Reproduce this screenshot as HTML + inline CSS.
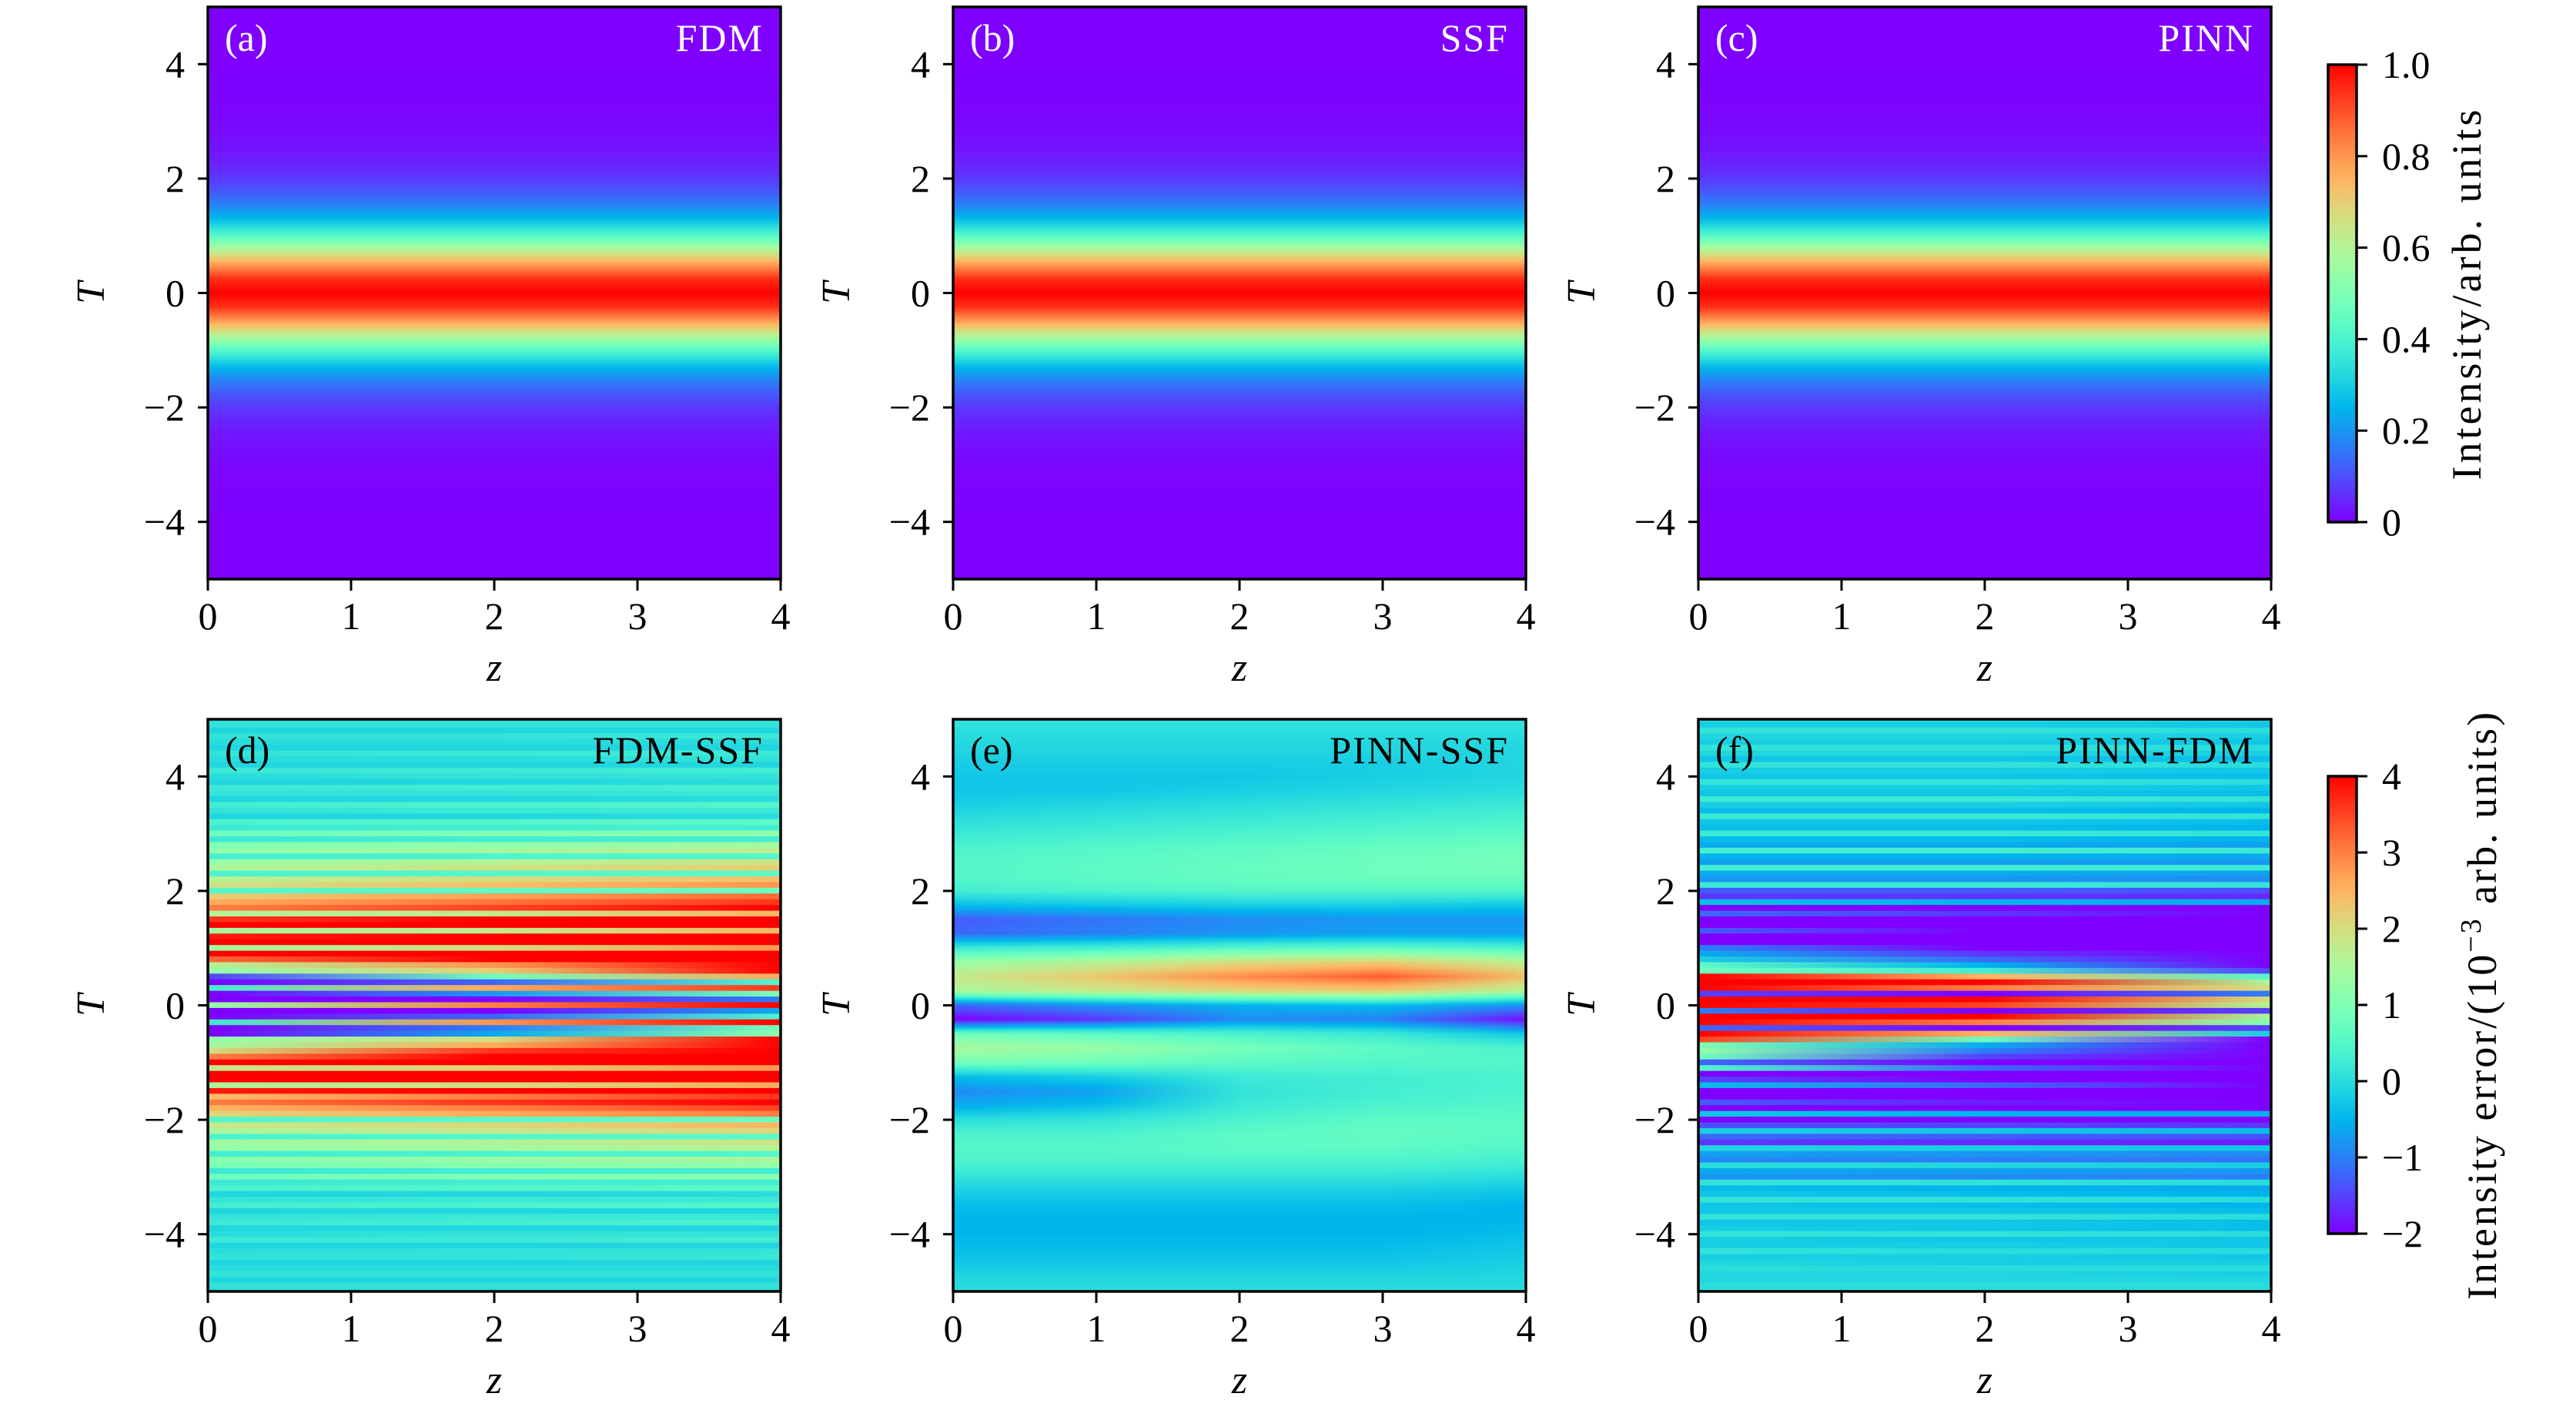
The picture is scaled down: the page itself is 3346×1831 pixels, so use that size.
<!DOCTYPE html>
<html><head><meta charset="utf-8"><style>
html,body{margin:0;padding:0;background:#fff;}
svg{display:block;font-family:"Liberation Serif",serif;}
</style></head><body>
<svg id="fig" xmlns="http://www.w3.org/2000/svg" width="3346" height="1831" viewBox="0 0 3346 1831">
<defs id="defs"></defs>
</svg>
<script>
// ---------- data ----------
const zTicks = [0,1,2,3,4];
const tTicks = [-4,-2,0,2,4];
const cbTicks1 = [0,0.2,0.4,0.6,0.8,1.0];
const cbTickLabels1 = ["0","0.2","0.4","0.6","0.8","1.0"];
const cbTicks2 = [-2,-1,0,1,2,3,4];
const cbTickLabels2 = ["\u22122","\u22121","0","1","2","3","4"];
// intensity vs T (T = 5 -> -5, step 0.25)
const tCoarse = [5,4.75,4.5,4.25,4,3.75,3.5,3.25,3,2.75,2.5,2.25,2,1.75,1.5,1.25,1,0.75,0.5,0.25,0,-0.25,-0.5,-0.75,-1,-1.25,-1.5,-1.75,-2,-2.25,-2.5,-2.75,-3,-3.25,-3.5,-3.75,-4,-4.25,-4.5,-4.75,-5];
const intensityFDM = [0.0002,0.0003,0.0005,0.0008,0.0013,0.0022,0.0036,0.006,0.0099,0.016,0.026,0.044,0.071,0.115,0.181,0.28,0.42,0.60,0.786,0.94,1.0,0.94,0.786,0.60,0.42,0.28,0.181,0.115,0.071,0.044,0.026,0.016,0.0099,0.006,0.0036,0.0022,0.0013,0.0008,0.0005,0.0003,0.0002];
const intensitySSF = [0.0002,0.0003,0.0005,0.0008,0.0013,0.0022,0.0036,0.006,0.0099,0.016,0.026,0.044,0.071,0.115,0.181,0.28,0.42,0.60,0.786,0.94,1.0,0.94,0.786,0.60,0.42,0.28,0.181,0.115,0.071,0.044,0.026,0.016,0.0099,0.006,0.0036,0.0022,0.0013,0.0008,0.0005,0.0003,0.0002];
const intensityPINN = [0.0002,0.0003,0.0005,0.0008,0.0013,0.0022,0.0036,0.006,0.0099,0.016,0.026,0.044,0.071,0.115,0.181,0.28,0.42,0.60,0.786,0.94,1.0,0.94,0.786,0.60,0.42,0.28,0.181,0.115,0.071,0.044,0.026,0.016,0.0099,0.006,0.0036,0.0022,0.0013,0.0008,0.0005,0.0003,0.0002];
// PINN-SSF error (1e-3), columns z = 0..4, rows T 5 -> -5 step 0.25
const eZcols = [0,1,2,3,4];
const eZ0 = [0.1,0.0,-0.1,-0.2,-0.3,-0.3,-0.2,0.0,0.2,0.4,0.5,0.5,0.3,-0.4,-1.3,-1.2,0.2,1.3,1.8,1.5,-1.2,-2.0,0.8,1.5,0.9,-0.4,-0.9,-0.6,0.0,0.4,0.5,0.4,0.1,-0.2,-0.4,-0.5,-0.5,-0.4,-0.3,-0.1,0.0];
const eZ1 = [0.1,0.0,-0.1,-0.2,-0.3,-0.3,-0.1,0.1,0.3,0.5,0.6,0.6,0.4,-0.3,-1.1,-1.0,0.3,1.6,2.3,1.8,-0.8,-1.6,0.6,1.3,0.8,-0.2,-0.7,-0.4,0.1,0.4,0.5,0.4,0.1,-0.2,-0.4,-0.5,-0.5,-0.4,-0.3,-0.1,0.0];
const eZ2 = [0.1,0.0,-0.1,-0.2,-0.3,-0.2,0.0,0.2,0.4,0.6,0.7,0.7,0.5,-0.2,-0.9,-0.8,0.5,2.0,2.9,2.1,-0.5,-0.9,0.4,0.9,0.6,0.2,0.1,0.2,0.4,0.6,0.6,0.4,0.1,-0.2,-0.4,-0.5,-0.5,-0.4,-0.3,-0.1,0.0];
const eZ3 = [0.1,0.0,-0.1,-0.2,-0.2,-0.1,0.1,0.3,0.5,0.7,0.8,0.8,0.5,-0.2,-0.8,-0.7,0.6,2.2,3.3,2.2,-0.4,-1.0,0.2,0.6,0.5,0.3,0.3,0.4,0.6,0.7,0.6,0.4,0.1,-0.2,-0.4,-0.5,-0.5,-0.4,-0.3,-0.1,0.0];
const eZ4 = [0.1,0.0,-0.1,-0.1,-0.1,0.0,0.2,0.4,0.6,0.8,0.9,0.8,0.5,-0.3,-0.8,-0.7,0.4,1.7,2.4,1.6,-0.8,-1.9,-0.3,0.4,0.5,0.4,0.4,0.5,0.6,0.6,0.5,0.3,0.0,-0.3,-0.5,-0.5,-0.4,-0.3,-0.2,-0.1,0.0];
// fine T grid: 5.0 -> -5.0 step 0.1 (101 rows); columns z = 0, 2, 4
const stripeZcols = [0,2,4];
const dZ0 = [0.0,0.1,-0.1,0.1,0.0,-0.1,0.1,0.0,-0.1,0.2,0.0,-0.1,0.2,0.1,-0.1,0.3,0.1,-0.1,0.4,0.2,
 0.8,0.2,1.0,1.2,0.3,1.3,1.5,0.4,1.6,1.9,0.5,2.2,2.6,
 3.0,1.6,3.6,4.2,1.5,3.8,4.5,1.4,4.6,3.2,1.6,1.2,
 -1.5,-2.5,0.3,-2.5,-2.5,1.2,-2.5,-2.5,0.2,-2.5,-2.2,
 1.2,1.4,2.0,3.0,4.2,1.8,4.4,4.5,1.5,3.8,2.4,3.0,
 2.5,2.1,0.5,1.8,1.5,0.4,1.4,1.2,0.3,1.1,0.9,0.2,0.8,
 0.2,0.4,-0.1,0.1,0.3,-0.1,0.1,0.2,-0.1,0.0,0.2,-0.1,0.0,0.1,-0.1,0.0,0.1,-0.1,0.1,0.0];
const dZ2 = [0.0,0.1,-0.1,0.1,0.0,-0.1,0.2,0.0,-0.1,0.2,0.1,-0.1,0.3,0.1,-0.1,0.4,0.2,-0.1,0.5,0.3,
 1.0,0.3,1.2,1.4,0.4,1.6,1.9,0.5,2.0,2.4,0.6,2.7,3.1,
 3.5,1.8,4.5,5.0,1.8,4.8,5.0,2.0,5.0,4.5,2.8,2.2,
 0.8,-1.2,2.6,-0.8,-2.2,3.0,-2.5,-1.2,2.8,-1.0,-0.6,
 2.0,2.6,3.6,4.5,5.0,2.2,5.0,5.0,2.0,5.0,3.0,3.6,
 3.0,2.6,0.6,2.1,1.8,0.5,1.6,1.4,0.4,1.3,1.1,0.3,1.0,
 0.3,0.5,-0.1,0.2,0.4,-0.1,0.2,0.3,-0.1,0.1,0.2,-0.1,0.1,0.1,-0.1,0.0,0.1,-0.1,0.1,0.0];
const dZ4 = [0.0,0.1,-0.1,0.2,0.0,-0.1,0.2,0.1,-0.1,0.3,0.1,0.0,0.3,0.2,0.0,0.5,0.2,0.0,0.6,0.3,
 1.2,0.3,1.4,1.7,0.5,1.9,2.2,0.6,2.4,2.8,0.8,3.2,3.6,
 4.5,2.5,5.0,5.0,2.5,5.0,5.0,2.8,5.0,5.0,5.0,4.5,
 2.6,0.5,3.6,1.0,-1.0,4.2,-0.6,0.4,4.0,0.9,1.2,
 4.5,5.0,5.0,5.0,5.0,2.8,5.0,5.0,2.6,5.0,3.6,4.2,
 3.5,3.0,0.8,2.5,2.1,0.6,1.9,1.6,0.5,1.5,1.2,0.3,1.1,
 0.3,0.6,0.0,0.2,0.5,-0.1,0.2,0.4,-0.1,0.1,0.3,-0.1,0.1,0.2,-0.1,0.0,0.1,-0.1,0.1,0.0];
const fZ0 = [0.0,-0.2,0.1,-0.1,-0.2,0.1,-0.1,-0.3,0.1,-0.2,-0.3,0.1,-0.2,-0.3,0.2,-0.2,-0.4,0.2,-0.3,-0.4,
 0.2,-0.4,-0.6,0.3,-0.5,-0.7,0.3,-0.6,-0.8,0.2,-1.3,-1.6,-0.4,
 -2.5,-1.2,-2.5,-2.5,-1.3,-2.5,-2.5,-1.0,-0.6,-0.2,0.6,0.8,
 4.5,5.0,5.0,-1.5,5.0,5.0,-1.0,5.0,5.0,-1.2,5.0,
 3.5,1.0,1.2,0.8,-1.2,0.5,-2.0,-1.5,-0.4,-2.2,-2.5,-1.3,
 -2.5,-0.3,-2.5,-1.4,-0.2,-1.2,-1.6,-0.1,-0.7,-0.9,0.0,-0.6,-0.8,
 0.1,-0.4,-0.3,0.1,-0.3,-0.3,0.1,-0.3,-0.2,0.1,-0.2,-0.2,0.1,-0.2,-0.1,0.0,-0.1,-0.1,0.0,0.0];
const fZ2 = [0.0,-0.2,0.1,-0.1,-0.2,0.1,-0.1,-0.3,0.1,-0.2,-0.3,0.1,-0.2,-0.3,0.2,-0.2,-0.4,0.2,-0.3,-0.4,
 0.2,-0.4,-0.6,0.3,-0.5,-0.7,0.3,-0.6,-0.8,0.2,-1.3,-1.6,-0.5,
 -2.5,-1.6,-2.5,-2.5,-2.0,-2.5,-2.5,-2.0,-1.6,-1.2,-0.5,0.3,
 2.5,5.0,3.0,-2.0,5.0,3.5,-2.0,5.0,3.0,-2.0,2.5,
 0.8,-0.6,-1.0,-1.5,-2.2,-1.2,-2.5,-2.3,-1.2,-2.5,-2.5,-1.8,
 -2.5,-0.5,-2.5,-1.5,-0.3,-1.3,-1.7,-0.2,-0.8,-1.0,-0.1,-0.7,-0.9,
 0.1,-0.5,-0.4,0.1,-0.4,-0.3,0.1,-0.3,-0.3,0.1,-0.3,-0.2,0.0,-0.2,-0.2,0.0,-0.1,-0.1,0.0,0.0];
const fZ4 = [-0.1,-0.3,0.0,-0.2,-0.3,0.0,-0.2,-0.4,0.0,-0.3,-0.4,0.0,-0.3,-0.4,0.1,-0.3,-0.5,0.1,-0.4,-0.5,
 0.1,-0.5,-0.7,0.2,-0.6,-0.8,0.2,-0.7,-0.9,0.1,-1.4,-1.7,-0.6,
 -2.5,-2.2,-2.5,-2.5,-2.5,-2.5,-2.5,-2.5,-2.5,-2.5,-2.5,-1.5,
 0.5,1.5,2.0,-1.0,2.0,1.6,-1.5,1.5,1.0,-1.5,-0.2,
 -2.2,-2.5,-2.5,-2.5,-2.5,-2.2,-2.5,-2.5,-2.0,-2.5,-2.5,-2.0,
 -2.5,-0.6,-2.5,-1.6,-0.4,-1.4,-1.8,-0.3,-0.9,-1.1,-0.2,-0.8,-1.0,
 0.0,-0.6,-0.5,0.0,-0.5,-0.4,0.0,-0.4,-0.4,0.0,-0.3,-0.3,0.0,-0.3,-0.2,0.0,-0.2,-0.1,0.0,0.0];

// ---------- helpers ----------
const NS = "http://www.w3.org/2000/svg";
const svg = document.getElementById('fig');
const defs = document.getElementById('defs');
function mk(tag, attrs, parent){ const e=document.createElementNS(NS,tag); for(const k in attrs) e.setAttribute(k,attrs[k]); (parent||svg).appendChild(e); return e; }
function rainbow(x){ x=Math.max(0,Math.min(1,x));
  const r=Math.min(1,Math.abs(2*x-0.5)), g=Math.sin(Math.PI*x), b=Math.cos(Math.PI*x/2);
  return 'rgb('+Math.round(r*255)+','+Math.round(g*255)+','+Math.round(b*255)+')'; }
let gid=0;

const PW=744, PH=743;
const panels = [
  {x:270,y:9,id:'a',name:'FDM',kind:'int',data:intensityFDM},
  {x:1238,y:9,id:'b',name:'SSF',kind:'int',data:intensitySSF},
  {x:2206,y:9,id:'c',name:'PINN',kind:'int',data:intensityPINN},
  {x:270,y:934,id:'d',name:'FDM-SSF',kind:'stripe',cols:[dZ0,dZ2,dZ4]},
  {x:1238,y:934,id:'e',name:'PINN-SSF',kind:'smooth',cols:[eZ0,eZ1,eZ2,eZ3,eZ4]},
  {x:2206,y:934,id:'f',name:'PINN-FDM',kind:'stripe',cols:[fZ0,fZ2,fZ4]}
];
const errNorm = v => (v+2)/6;

function interpCoarse(arr, T){
  const f=(5-T)/0.25; let i=Math.floor(f); if(i<0) return arr[0]; if(i>=arr.length-1) return arr[arr.length-1];
  const t=f-i; return arr[i]*(1-t)+arr[i+1]*t; }

panels.forEach(p=>{
  const g=mk('g',{});
  
  
  const xs = z => p.x + z/4*PW;
  const ys = T => p.y + (5-T)/10*PH;
  const clipId='clip'+p.id;
  const cp=mk('clipPath',{id:clipId},defs); mk('rect',{x:p.x,y:p.y,width:PW,height:PH},cp);
  const hm=mk('g',{'clip-path':'url(#'+clipId+')'},g);
  
  
  if(p.kind==='int'){
    const step=0.02;
    for(let T=5;T>-5-1e-9;T-=step){
      const v=interpCoarse(p.data,T);
      const r=mk('rect',{x:p.x,y:ys(T+step/2)-0.3,width:PW,height:step/10*PH+0.6,fill:rainbow(v)},hm);
      
      
    }
  } else if(p.kind==='smooth'){
    const step=0.03;
    for(let T=5;T>-5-1e-9;T-=step){
      const id='g'+(gid++);
      const lg=mk('linearGradient',{id:id,x1:0,y1:0,x2:1,y2:0},defs);
      p.cols.forEach((col,k)=>{ mk('stop',{offset:(eZcols[k]/4),'stop-color':rainbow(errNorm(interpCoarse(col,T)))},lg); });
      const r=mk('rect',{x:p.x,y:ys(T+step/2)-0.3,width:PW,height:step/10*PH+0.6,fill:'url(#'+id+')'},hm);
      
      
    }
  } else {
    const n=p.cols[0].length;
    for(let i=0;i<n;i++){
      const T=5-i*0.1;
      const id='g'+(gid++);
      const lg=mk('linearGradient',{id:id,x1:0,y1:0,x2:1,y2:0},defs);
      p.cols.forEach((col,k)=>{ mk('stop',{offset:(stripeZcols[k]/4),'stop-color':rainbow(errNorm(col[i]))},lg); });
      const r=mk('rect',{x:p.x,y:ys(T+0.05)-0.3,width:PW,height:0.1/10*PH+0.6,fill:'url(#'+id+')'},hm);
      
      
    }
  }
  const fr=mk('rect',{x:p.x,y:p.y,width:PW,height:PH,fill:'none',stroke:'#000','stroke-width':3.5},g);
  
  
  zTicks.forEach(z=>{
    const t=mk('line',{x1:xs(z),x2:xs(z),y1:p.y+PH,y2:p.y+PH+15,stroke:'#000','stroke-width':3},g);
    
    
    const l=mk('text',{x:xs(z),y:p.y+PH+65,'font-size':50,'text-anchor':'middle'},g);
    l.textContent=String(z);
    
    
  });
  tTicks.forEach(T=>{
    const t=mk('line',{x1:p.x-13,x2:p.x,y1:ys(T),y2:ys(T),stroke:'#000','stroke-width':3},g);
    
    
    const l=mk('text',{x:p.x-30,y:ys(T)+17,'font-size':50,'text-anchor':'end'},g);
    l.textContent=(T<0?'\u2212':'')+Math.abs(T);
    
    
  });
  const xl=mk('text',{x:p.x+PW/2,y:p.y+PH+132,'font-size':52,'font-style':'italic','text-anchor':'middle'},g);
  xl.textContent='z';
  
  
  const yl=mk('text',{x:0,y:0,'font-size':52,'font-style':'italic','text-anchor':'middle',transform:'translate('+(p.x-135)+','+(p.y+PH/2)+') rotate(-90)'},g);
  yl.textContent='T';
  
  
  const col = p.kind==='int' ? '#fff' : '#000';
  const a=mk('text',{x:p.x+22,y:p.y+57,'font-size':50,fill:col},g);
  a.textContent='('+p.id+')';
  
  
  const nm=mk('text',{x:p.x+PW-22,y:p.y+57,'font-size':50,fill:col,'text-anchor':'end','letter-spacing':2},g);
  nm.textContent=p.name;
  
  
});

// ---------- colorbars ----------
function colorbar(y0,y1,ticks,labels,vmin,vmax,title,titleX,nameKey,ls){
  const g=mk('g',{});
  
  
  const x0=3024,w=37;
  const id='cb'+(gid++);
  const lg=mk('linearGradient',{id:id,x1:0,y1:1,x2:0,y2:0},defs);
  for(let i=0;i<=40;i++){ mk('stop',{offset:i/40,'stop-color':rainbow(i/40)},lg); }
  const r=mk('rect',{x:x0,y:y0,width:w,height:y1-y0,fill:'url(#'+id+')',stroke:'#000','stroke-width':3.5},g);
  
  
  ticks.forEach((v,i)=>{
    const y=y1-(v-vmin)/(vmax-vmin)*(y1-y0);
    const t=mk('line',{x1:x0+w,x2:x0+w+14,y1:y,y2:y,stroke:'#000','stroke-width':3},g);
    
    
    const l=mk('text',{x:3094,y:y+17,'font-size':50},g);
    l.textContent=labels[i];
    
    
  });
  const tl=mk('text',{x:0,y:0,'font-size':54,'letter-spacing':ls,'text-anchor':'middle',transform:'translate('+titleX+','+((y0+y1)/2)+') rotate(-90)'},g);
  tl.innerHTML=title;
  
  
}
colorbar(84,678,cbTicks1,cbTickLabels1,0,1,'Intensity/arb. units',3222,'intensity-colorbar',4);
colorbar(1008,1602,cbTicks2,cbTickLabels2,-2,4,'Intensity error/(10<tspan dy="-20" font-size="38">\u22123</tspan><tspan dy="20"> arb. units)</tspan>',3242,'error-colorbar',3);
</script>
</body></html>
